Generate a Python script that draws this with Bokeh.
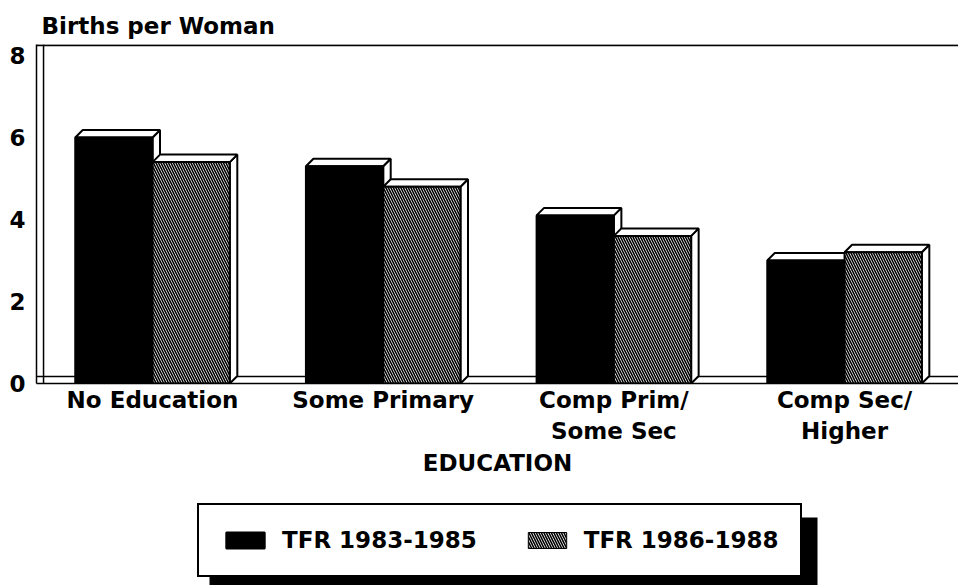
import numpy as np
from bokeh.plotting import figure
from bokeh.layouts import column
from bokeh.models import (Range1d, FixedTicker, Span, Legend, LegendItem,
                          BoxAnnotation)
from bokeh.embed import file_html
from bokeh.resources import INLINE

# ---- data ----
categories = ["No Education", "Some Primary", "Comp Prim/\nSome Sec", "Comp Sec/\nHigher"]
series_names = ["TFR 1983-1985", "TFR 1986-1988"]
tfr_1983_1985 = [6.0, 5.3, 4.1, 3.0]
tfr_1986_1988 = [5.4, 4.8, 3.6, 3.2]
y_ticks = [0, 2, 4, 6, 8]
y_title = "Births per Woman"
x_title = "EDUCATION"

FONT = "DejaVu Sans"
FS = "23px"
BAR_W = 0.335
DX, DY = 0.0325, 0.183   # 3D depth offsets in data units
HATCH = dict(hatch_pattern="\\", hatch_color="black", hatch_scale=5, hatch_weight=1.6)

xc = np.arange(len(categories)) + 0.5

p = figure(width=958, height=498, output_backend="svg", toolbar_location=None,
           x_range=Range1d(-0.003, 3.994), y_range=Range1d(0, 8.268),
           min_border_left=36, min_border_right=0, min_border_top=44,
           min_border_bottom=115, title=y_title)
p.outline_line_color = None
p.grid.visible = False
p.background_fill_color = "white"
p.border_fill_color = "white"

p.title.text_font = FONT
p.title.text_font_size = FS
p.title.text_font_style = "bold"
p.title.text_color = "black"
p.title.offset = 5
p.title.standoff = 11

# 3D box decoration
p.add_layout(Span(location=0.0275, dimension="height", line_color="black",
                  line_width=1.5, level="underlay"))
p.add_layout(Span(location=8.25, dimension="width", line_color="black",
                  line_width=2, level="underlay"))
p.add_layout(Span(location=0.17, dimension="width", line_color="black",
                  line_width=1.5, level="underlay"))


def bar_parts(x0, x1, vals):
    tops_x, tops_y, sides_x, sides_y = [], [], [], []
    for a, b, v in zip(x0, x1, vals):
        tops_x.append([a, a + DX, b + DX, b])
        tops_y.append([v, v + DY, v + DY, v])
        sides_x.append([b, b, b + DX, b + DX])
        sides_y.append([0, v, v + DY, DY])
    return tops_x, tops_y, sides_x, sides_y


bar_edges = []
for k, vals in enumerate([tfr_1983_1985, tfr_1986_1988]):
    x0 = xc - BAR_W if k == 0 else xc
    x1 = xc if k == 0 else xc + BAR_W
    bar_edges.append((x0, x1, vals))
    tx, ty, sx, sy = bar_parts(x0, x1, vals)
    p.patches(sx, sy, fill_color="white", line_color="black", line_width=2)
    p.patches(tx, ty, fill_color="white", line_color="black", line_width=2)
    if k == 0:
        p.quad(left=x0, right=x1, bottom=0, top=vals, fill_color="black",
               line_color="black", line_width=2)
    else:
        p.quad(left=x0, right=x1, bottom=0, top=vals, fill_color="white",
               line_color="black", line_width=2, **HATCH)

# axes
xa = p.xaxis[0]
xa.ticker = FixedTicker(ticks=list(xc))
xa.major_label_overrides = {float(x): c for x, c in zip(xc, categories)}
xa.major_label_text_font = FONT
xa.major_label_text_font_size = FS
xa.major_label_text_font_style = "bold"
xa.major_label_text_color = "black"
xa.major_tick_in = 0
xa.major_tick_out = 0
xa.minor_tick_line_color = None
xa.major_label_standoff = 3
xa.axis_line_width = 1.5
xa.axis_label = x_title
xa.axis_label_text_font = FONT
xa.axis_label_text_font_size = FS
xa.axis_label_text_font_style = "bold"
xa.axis_label_text_color = "black"
xa.axis_label_standoff = 3

ya = p.yaxis[0]
ya.ticker = FixedTicker(ticks=y_ticks)
ya.major_label_text_font = FONT
ya.major_label_text_font_size = FS
ya.major_label_text_font_style = "bold"
ya.major_label_text_color = "black"
ya.major_tick_in = 0
ya.major_tick_out = 0
ya.minor_tick_line_color = None
ya.major_label_standoff = 11
ya.axis_line_width = 1.5

# ---- legend panel (same series, drawn outside its visible range) ----
lf = figure(width=958, height=87, output_backend="svg", toolbar_location=None,
            x_range=Range1d(100, 101), y_range=Range1d(100, 101),
            min_border=0, x_axis_type=None, y_axis_type=None)
lf.outline_line_color = None
lf.grid.visible = False
(b0, b1, bv), (h0, h1, hv) = bar_edges
r1 = lf.quad(left=b0, right=b1, bottom=0, top=bv, fill_color="black",
             line_color="black", line_width=2)
r2 = lf.quad(left=h0, right=h1, bottom=0, top=hv, fill_color="white",
             line_color="black", line_width=1, **HATCH)
lf.add_layout(BoxAnnotation(left=173, right=781, top=68, bottom=-20,
                            left_units="screen", right_units="screen",
                            top_units="screen", bottom_units="screen",
                            fill_color="black", fill_alpha=1, line_color=None))
legend = Legend(items=[LegendItem(label=series_names[0], renderers=[r1]),
                       LegendItem(label=series_names[1], renderers=[r2])],
                orientation="horizontal", location=(161, 8),
                glyph_width=48, glyph_height=20, label_standoff=13, spacing=46,
                padding=22, margin=0, border_line_color="black",
                border_line_width=2, border_line_alpha=1,
                background_fill_color="white", background_fill_alpha=1,
                label_text_font=FONT, label_text_font_size=FS,
                label_text_font_style="bold", label_text_color="black")
lf.add_layout(legend)

open("out.html", "w").write(file_html(column(p, lf, spacing=0), INLINE))
